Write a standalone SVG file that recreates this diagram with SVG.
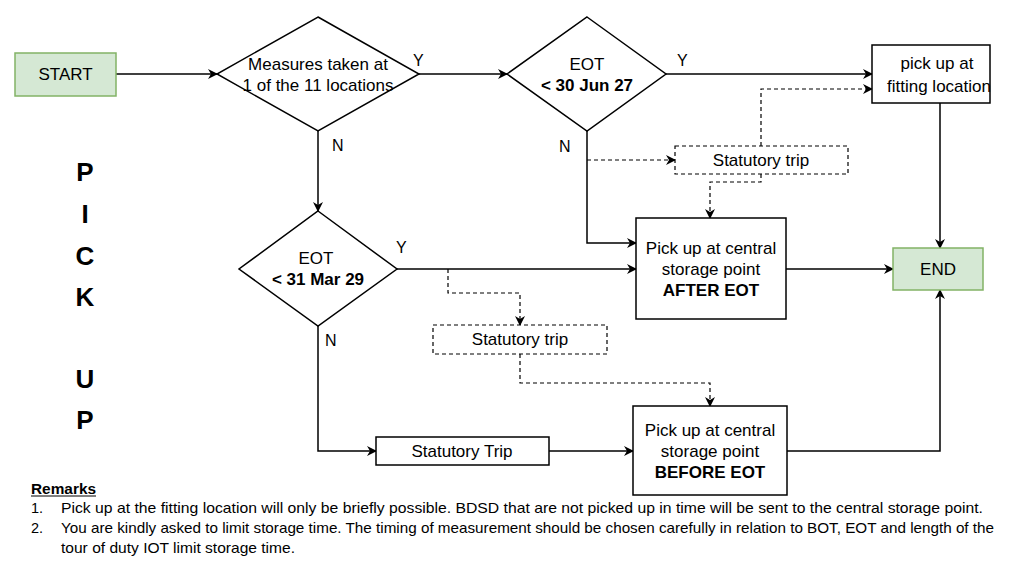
<svg xmlns="http://www.w3.org/2000/svg" width="1024" height="576" viewBox="0 0 1024 576">
<defs>
<marker id="ah" viewBox="0 0 10 10" refX="9" refY="5" markerWidth="10" markerHeight="10" markerUnits="userSpaceOnUse" orient="auto">
<path d="M0,0 L10,5 L0,10 L3,5 Z" fill="#000"/>
</marker>
<style>
text{font-family:"Liberation Sans",Arial,sans-serif;fill:#000}
.t{font-size:17px;text-anchor:middle}
.b{font-weight:bold}
.lbl{font-size:16px}
.box{fill:#fff;stroke:#000;stroke-width:1.5}
.green{fill:#d5e8d4;stroke:#82b366;stroke-width:1.5}
.dbox{fill:#fff;stroke:#000;stroke-width:1.2;stroke-dasharray:4 3}
.c{fill:none;stroke:#000;stroke-width:1.5;marker-end:url(#ah)}
.d{fill:none;stroke:#000;stroke-width:1.2;stroke-dasharray:4 3;marker-end:url(#ah)}
.big{font-size:26px;font-weight:bold;text-anchor:middle}
.rm{font-size:14.5px}
</style>
</defs>
<rect width="1024" height="576" fill="#fff"/>

<g id="connectors">
<path class="c" d="M116,74 H217"/>
<path class="c" d="M419,74 H507"/>
<path class="c" d="M666,74 H872"/>
<path class="c" d="M940,103 V248"/>
<path class="c" d="M587,131 V243 H636"/>
<path class="d" d="M587,160 H675"/>
<path class="d" d="M761,146 V89 H872"/>
<path class="d" d="M761,174 V182 H710 V218"/>
<path class="c" d="M786,269 H893"/>
<path class="c" d="M318,131 V211"/>
<path class="c" d="M397,269 H636"/>
<path class="d" d="M448,269 V293 H520 V325"/>
<path class="d" d="M520,354 V383 H710 V406"/>
<path class="c" d="M318,326 V451 H376"/>
<path class="c" d="M549,451 H633"/>
<path class="c" d="M787,451 H940 V290"/>
</g>

<g id="labels">
<text class="lbl" x="413" y="66">Y</text>
<text class="lbl" x="677" y="66">Y</text>
<text class="lbl" x="332" y="151">N</text>
<text class="lbl" x="559" y="152">N</text>
<text class="lbl" x="396" y="253">Y</text>
<text class="lbl" x="325" y="346">N</text>
</g>

<g id="start">
<rect class="green" x="15" y="53" width="101" height="43"/>
<text class="t" x="65.5" y="80">START</text>
</g>

<g id="decision-locations">
<polygon class="box" points="318,17 419,74 318,131 217,74"/>
<text class="t" x="318" y="70">Measures taken at</text>
<text class="t" x="318" y="91">1 of the 11 locations</text>
</g>

<g id="decision-jun27">
<polygon class="box" points="587,17 666,74 587,131 507,74"/>
<text class="t" x="587" y="70">EOT</text>
<text class="t b" x="587" y="91">&lt; 30 Jun 27</text>
</g>

<g id="fitting-location">
<rect class="box" x="872" y="45" width="118" height="58"/>
<text class="t" x="937" y="69">pick up at</text>
<text class="t" x="939" y="92">fitting location</text>
</g>

<g id="end">
<rect class="green" x="893" y="248" width="90" height="42"/>
<text class="t" x="938" y="275">END</text>
</g>

<g id="statutory-trip-1">
<rect class="dbox" x="675" y="146" width="173" height="28"/>
<text class="t" x="761" y="166">Statutory trip</text>
</g>

<g id="after-eot">
<rect class="box" x="636" y="218" width="150" height="101"/>
<text class="t" x="711" y="254">Pick up at central</text>
<text class="t" x="711" y="275">storage point</text>
<text class="t b" x="711" y="296">AFTER EOT</text>
</g>

<g id="decision-mar29">
<polygon class="box" points="318,211 397,269 318,326 239,269"/>
<text class="t" x="316" y="264">EOT</text>
<text class="t b" x="318" y="285">&lt; 31 Mar 29</text>
</g>

<g id="statutory-trip-2">
<rect class="dbox" x="433" y="325" width="174" height="29"/>
<text class="t" x="520" y="345">Statutory trip</text>
</g>

<g id="statutory-trip-3">
<rect class="box" x="376" y="437" width="173" height="28"/>
<text class="t" x="462" y="457">Statutory Trip</text>
</g>

<g id="before-eot">
<rect class="box" x="633" y="406" width="154" height="89"/>
<text class="t" x="710" y="436">Pick up at central</text>
<text class="t" x="710" y="457">storage point</text>
<text class="t b" x="710" y="478">BEFORE EOT</text>
</g>

<g id="side-title">
<text class="big" x="85" y="181">P</text>
<text class="big" x="85" y="223">I</text>
<text class="big" x="85" y="265">C</text>
<text class="big" x="85" y="306">K</text>
<text class="big" x="85" y="388">U</text>
<text class="big" x="85" y="429">P</text>
</g>

<g id="remarks">
<text class="rm b" x="31" y="494" textLength="65" lengthAdjust="spacingAndGlyphs">Remarks</text>
<line x1="31" y1="496" x2="96" y2="496" stroke="#000" stroke-width="1"/>
<text class="rm" x="31" y="513">1.</text>
<text class="rm" x="61" y="513" textLength="922" lengthAdjust="spacingAndGlyphs">Pick up at the fitting location will only be briefly possible. BDSD that are not picked up in time will be sent to the central storage point.</text>
<text class="rm" x="31" y="533">2.</text>
<text class="rm" x="61" y="533" textLength="933" lengthAdjust="spacingAndGlyphs">You are kindly asked to limit storage time. The timing of measurement should be chosen carefully in relation to BOT, EOT and length of the</text>
<text class="rm" x="61" y="553" textLength="234" lengthAdjust="spacingAndGlyphs">tour of duty IOT limit storage time.</text>
</g>
</svg>
